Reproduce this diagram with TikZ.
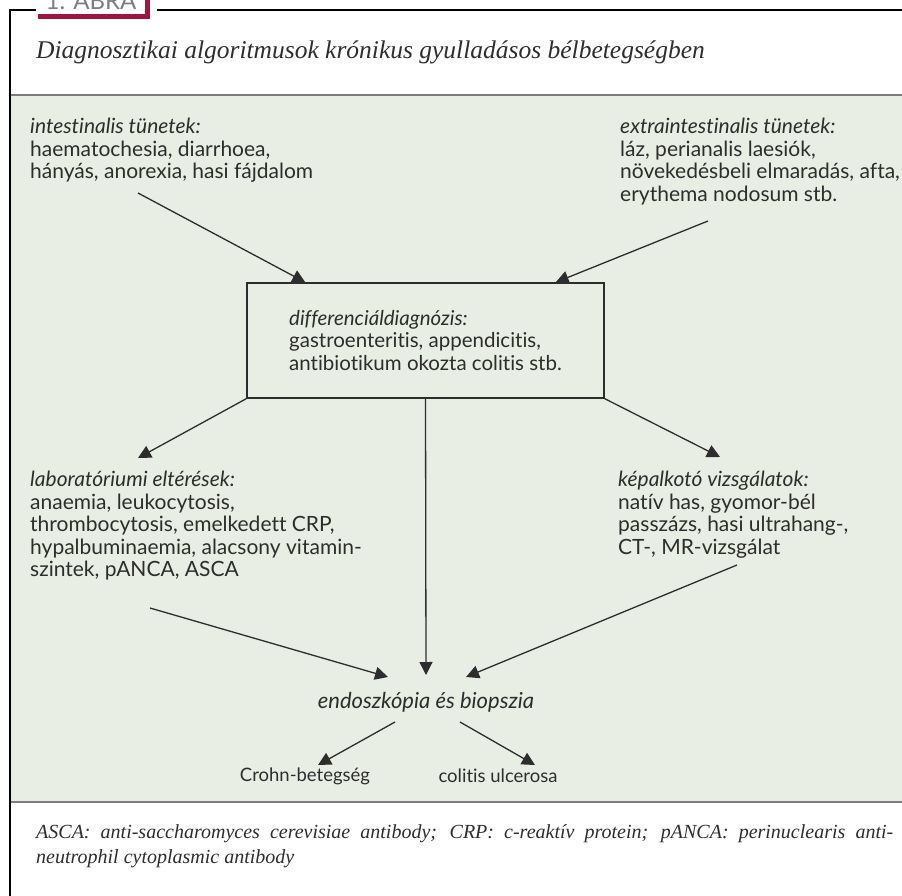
\documentclass[tikz,border=0pt]{standalone}
\usepackage{fontspec}
\setmainfont{Liberation Serif}
\newfontfamily\bodyfont[Ligatures=NoCommon]{Lato}
\usetikzlibrary{arrows.meta, positioning, calc}

\definecolor{abragreen}{RGB}{233,238,228}
\definecolor{abrared}{RGB}{160,20,62}
\definecolor{abragrey}{RGB}{125,125,125}
\definecolor{abratext}{RGB}{45,45,45}

\tikzset{
  txt/.style={anchor=north west, align=left, inner sep=0pt, text=abratext,
    font=\bodyfont\fontsize{21}{22.5}\selectfont},
  mid/.style={inner sep=0pt, text=abratext, font=\bodyfont\fontsize{20.5}{22.5}\selectfont},
  flow/.style={-{Triangle[length=13pt,width=13pt]}, line width=1.3pt, draw=abratext},
  note/.style={inner sep=0pt, text=abratext, font=\itshape\fontsize{20}{25}\selectfont}
}

\begin{document}
\begin{tikzpicture}[x=1pt,y=-1pt]
\useasboundingbox (0,0) rectangle (902,896);

% background field
\fill[abragreen] (10,95) rectangle (902,802);
\draw[abragrey, line width=2pt] (10,95) -- (902,95);
\draw[abragrey, line width=2pt] (10,802) -- (902,802);

% frame and tab
\draw[line width=1.2pt] (10,896) -- (10,10) -- (36,10);
\draw[line width=1.2pt] (157,10) -- (902,10);
\fill[abrared] (38,14) rectangle (150,19);
\fill[abrared] (145,-5) rectangle (150,19);
\node[anchor=base, inner sep=0pt, text=abragrey, font=\bodyfont\fontsize{24}{24}\selectfont] (tab) at (91,10) {1. ÁBRA};

% title and footnote
\node[note, anchor=west, font=\itshape\fontsize{25.5}{28}\selectfont] (title) at (36,52)
  {Diagnosztikai algoritmusok krónikus gyulladásos bélbetegségben};
\node[note, anchor=north west, text width=857pt, align=justify] (notes) at (36,824)
  {ASCA: anti-saccharomyces cerevisiae antibody; CRP: c-reaktív protein; pANCA: perinuclearis anti-\linebreak neutrophil cytoplasmic antibody};

% symptoms
\node[txt] (intest) at (30,118) {\itshape intestinalis tünetek:\\
  haematochesia, diarrhoea,\\ hányás, anorexia, hasi fájdalom};
\node[txt] (extra) at (620,118) {\itshape extraintestinalis tünetek:\\
  láz, perianalis laesiók,\\ növekedésbeli elmaradás, afta,\\ erythema nodosum stb.};

% differential diagnosis box
\node[mid, draw=abratext, line width=1.3pt, minimum width=357pt, minimum height=115pt, align=left] (diff) at (425.5,340.5)
  {\itshape differenciáldiagnózis:\\ gastroenteritis, appendicitis,\\ antibiotikum okozta colitis stb.};

% findings
\node[txt] (lab) at (30,471) {\itshape laboratóriumi eltérések:\\
  anaemia, leukocytosis,\\ thrombocytosis, emelkedett CRP,\\
  hypalbuminaemia, alacsony vitamin-\\ szintek, pANCA, ASCA};
\node[txt] (kep) at (618,471) {\itshape képalkotó vizsgálatok:\\
  natív has, gyomor-bél\\ passzázs, hasi ultrahang-,\\ CT-, MR-vizsgálat};

\node[mid, font=\bodyfont\itshape\fontsize{22}{22.5}\selectfont] (endo) at (426,702) {endoszkópia és biopszia};
\node[mid, font=\bodyfont\fontsize{18.5}{22.5}\selectfont] (crohn) at (305,776) {Crohn-betegség};
\node[mid, font=\bodyfont\fontsize{18.5}{22.5}\selectfont] (colitis) at (498,776) {colitis ulcerosa};

% arrows
\draw[flow] ($(intest.north west)+(108,75)$) -- ($(diff.north west)+(59,0)$);
\draw[flow] ($(extra.north west)+(88,103)$) -- ($(diff.north east)+(-49,0)$);
\draw[flow] (diff.south west) -- ($(lab.north west)+(108,-13)$);
\draw[flow] (diff.south) -- ($(endo.center)+(0,-27)$);
\draw[flow] (diff.south east) -- ($(kep.north west)+(102,-14)$);
\draw[flow] ($(lab.north west)+(120,137)$) -- ($(endo.center)+(-38,-25)$);
\draw[flow] ($(kep.north west)+(119,94)$) -- ($(endo.center)+(40,-25)$);
\draw[flow] ($(endo.center)+(-31,20)$) -- ($(crohn.center)+(13,-11)$);
\draw[flow] ($(endo.center)+(34,20)$) -- ($(colitis.center)+(37,-11)$);
\end{tikzpicture}
\end{document}
